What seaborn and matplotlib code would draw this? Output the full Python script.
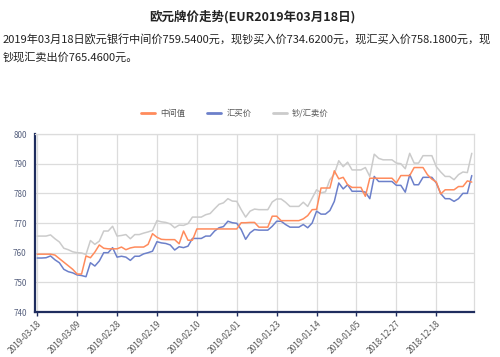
import numpy as np
import pandas as pd
import matplotlib
matplotlib.use('Agg')
import matplotlib.pyplot as plt
import seaborn as sns

# 数据: 从 2019-03-18 往前逐日 (左 -> 右)
zhongjian = [759.5, 759.5, 759.5, 759.5, 759.2, 758.0, 756.8, 755.6, 754.4, 752.8,
             752.8, 758.9, 758.3, 760.2, 762.6, 761.5, 761.3, 761.3, 761.3, 761.9,
             761.0, 761.6, 761.9, 761.9, 761.9, 762.8, 766.4, 765.2, 764.5, 764.4,
             764.4, 764.4, 763.0, 767.3, 764.2, 764.2, 768.0, 768.0, 768.0, 768.0,
             768.0, 768.0, 768.0, 768.0, 768.0, 768.0, 770.1, 770.1, 770.2, 770.2,
             768.6, 768.6, 768.6, 772.3, 772.3, 770.8, 770.8, 770.8, 770.8, 770.8,
             771.4, 772.5, 774.5, 774.6, 781.8, 781.8, 781.8, 787.6, 784.9, 785.4,
             782.9, 782.0, 782.0, 782.0, 779.0, 785.1, 785.1, 785.1, 785.1, 785.1,
             785.1, 783.5, 786.0, 786.0, 786.0, 788.7, 788.7, 788.7, 786.3, 784.8,
             783.8, 779.8, 781.2, 781.2, 781.2, 782.3, 782.3, 784.2, 783.8]

huimai = [758.2, 758.2, 758.3, 758.9, 757.6, 756.6, 754.4, 753.6, 753.2, 752.5,
          752.3, 751.9, 756.6, 755.5, 757.2, 760.0, 760.0, 761.7, 758.5, 758.8,
          758.5, 757.4, 758.8, 758.8, 759.6, 760.0, 760.5, 763.7, 763.3, 763.1,
          762.6, 760.9, 762.0, 761.7, 762.2, 764.8, 764.8, 764.8, 765.6, 765.6,
          767.3, 768.4, 768.8, 770.6, 770.1, 769.9, 767.8, 764.5, 766.7, 767.8,
          767.6, 767.6, 767.6, 768.9, 770.6, 770.6, 769.5, 768.6, 768.6, 768.6,
          769.5, 768.4, 770.0, 774.0, 773.0, 773.0, 774.2, 777.3, 783.5, 781.5,
          782.9, 780.7, 780.7, 780.7, 780.4, 778.2, 785.7, 784.0, 784.0, 784.0,
          784.0, 782.7, 782.7, 780.4, 786.3, 782.9, 782.9, 785.4, 785.4, 785.4,
          783.5, 779.9, 778.2, 778.2, 777.3, 778.2, 780.0, 780.0, 786.0]

maichu = [765.6, 765.6, 765.6, 766.0, 764.7, 763.6, 761.5, 761.0, 760.3, 760.0,
          759.9, 759.4, 764.1, 762.8, 763.9, 767.3, 767.3, 768.9, 765.6, 765.8,
          766.1, 764.7, 766.1, 766.1, 766.6, 767.0, 767.5, 770.8, 770.4, 770.2,
          769.7, 768.4, 769.3, 769.2, 769.8, 772.0, 772.0, 772.0, 772.8, 773.2,
          774.8, 776.3, 776.8, 778.2, 777.4, 777.3, 774.5, 772.0, 774.0, 774.7,
          774.5, 774.5, 774.5, 777.1, 778.1, 778.1, 777.0, 775.6, 775.6, 775.6,
          777.0, 775.6, 778.4, 781.2, 780.2, 780.5, 784.6, 786.5, 791.0, 789.0,
          790.5, 787.9, 787.9, 787.9, 788.7, 785.7, 793.2, 791.8, 791.3, 791.3,
          791.3, 790.2, 790.0, 788.3, 793.5, 790.2, 790.2, 792.7, 792.7, 792.7,
          789.0, 787.2, 785.7, 785.7, 784.6, 786.3, 787.2, 787.0, 793.5]

tick_labels = ['2019-03-18', '2019-03-09', '2019-02-28', '2019-02-19', '2019-02-10',
               '2019-02-01', '2019-01-23', '2019-01-14', '2019-01-05', '2018-12-27',
               '2018-12-18']

names = ['中间值', '汇买价', '钞/汇卖价']
colors = ['#FF8B5C', '#6C80CA', '#CBCBCB']

n = len(zhongjian)
df = pd.DataFrame({
    'idx': list(range(n)) * 3,
    'valor': zhongjian + huimai + maichu,
    'serie': [names[0]] * n + [names[1]] * n + [names[2]] * n,
})

sns.set_style('white')
plt.rcParams['font.family'] = ['Noto Sans CJK SC', 'DejaVu Sans']

fig = plt.figure(figsize=(5, 3.57), dpi=100)
ax = fig.add_axes([0.07, 0.126, 0.878, 0.4986])

sns.lineplot(data=df, x='idx', y='valor', hue='serie', hue_order=names[::-1],
             palette=dict(zip(names, colors)), linewidth=1.1, ax=ax, legend=False)

ax.set_xlim(-0.5, n - 0.5)
ax.set_ylim(740, 800)
ax.set_yticks(range(740, 801, 10))
ax.set_xticks(range(0, 9 * len(tick_labels), 9))
ax.set_xticklabels(tick_labels, rotation=45, ha='right', rotation_mode='anchor',
                   fontsize=6, color='#555555')
ax.tick_params(axis='y', labelsize=5.8, labelcolor='#56607e', length=0, pad=6)
ax.tick_params(axis='x', length=3, width=1, color='#1f2d5e', pad=2, direction='out',
               bottom=True)
ax.set_xlabel('')
ax.set_ylabel('')
ax.grid(True, color='#dcdcdc', linewidth=0.9)

for s in ['left', 'bottom']:
    ax.spines[s].set_color('#1f2d5e')
    ax.spines[s].set_linewidth(1.6)
for s in ['top', 'right']:
    ax.spines[s].set_color('#dcdcdc')
    ax.spines[s].set_linewidth(0.9)

handles = [plt.Line2D([], [], color=c, linewidth=2) for c in colors]
fig.legend(handles, names, loc='center', bbox_to_anchor=(0.47, 0.683), ncol=3,
           frameon=False, fontsize=6, handlelength=1.7, columnspacing=2.6,
           handletextpad=0.6, labelcolor='#555555')

fig.text(0.505, 0.952, '欧元牌价走势(EUR2019年03月18日)', ha='center', va='center',
         fontsize=9, fontweight='bold', color='#222222')
fig.text(0.006, 0.888, '2019年03月18日欧元银行中间价759.5400元，现钞买入价734.6200元，现汇买入价758.1800元，现',
         ha='left', va='center', fontsize=8, color='#222222')
fig.text(0.006, 0.84, '钞现汇卖出价765.4600元。', ha='left', va='center',
         fontsize=8, color='#222222')

fig.savefig('out.png', dpi=100)
